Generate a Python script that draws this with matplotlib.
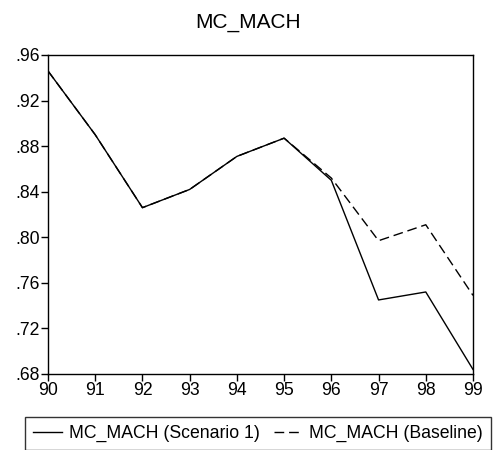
import numpy as np
import matplotlib
matplotlib.use("Agg")
import matplotlib.pyplot as plt
from matplotlib.ticker import FuncFormatter

plt.rcParams['font.family'] = ['Liberation Sans', 'DejaVu Sans']

# Data
years = [90, 91, 92, 93, 94, 95, 96, 97, 98, 99]
scenario1 = [0.946, 0.890, 0.826, 0.842, 0.871, 0.887, 0.850, 0.745, 0.752, 0.684]
baseline = [0.946, 0.890, 0.826, 0.842, 0.871, 0.887, 0.852, 0.797, 0.811, 0.749]
yticks = [0.68, 0.72, 0.76, 0.80, 0.84, 0.88, 0.92, 0.96]

fig = plt.figure(figsize=(4.97, 4.5), dpi=100)
ax = fig.add_axes([48/497, 1 - 374/450, (473-48)/497, (374-55)/450])

ax.plot(years, scenario1, color='black', lw=1.0, label='MC_MACH (Scenario 1)')
ax.plot(years, baseline, color='black', lw=1.0, ls=(0, (7, 3.5)), label='MC_MACH (Baseline)')

ax.set_xlim(90, 99)
ax.set_ylim(0.68, 0.96)
ax.set_xticks(years)
ax.set_yticks(yticks)
ax.yaxis.set_major_formatter(FuncFormatter(lambda v, p: ('%.2f' % v)[1:]))
ax.tick_params(direction='out', length=5, width=1, labelsize=12.7, pad=1)
for s in ax.spines.values():
    s.set_linewidth(1)

fig.text(0.5, 1 - 22/450, 'MC_MACH', ha='center', va='center', fontsize=15)

leg = fig.legend(loc='center', bbox_to_anchor=(258/497, 1 - 433.5/450), ncol=2,
                 frameon=True, fancybox=False, edgecolor='black', fontsize=12.7,
                 handlelength=1.6, columnspacing=0.8, handletextpad=0.4,
                 borderpad=0.45, borderaxespad=0)
leg.get_frame().set_linewidth(1)

fig.savefig('out.png', dpi=100)
